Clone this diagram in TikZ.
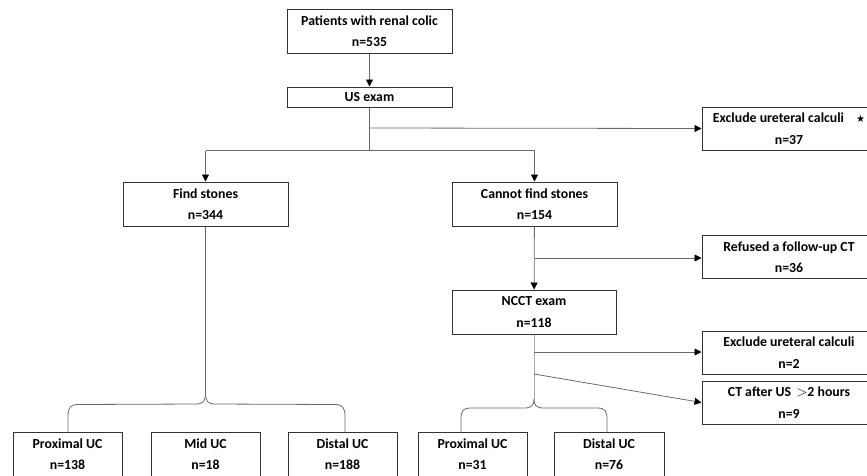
\documentclass[tikz,border=0pt]{standalone}
\usepackage{fontspec}
\setmainfont{Carlito}
\newfontfamily\symfont{DejaVu Sans}
\usetikzlibrary{arrows.meta,calc}
\definecolor{boxline}{HTML}{333333}
\definecolor{conline}{HTML}{6A6A6A}
\definecolor{lightline}{HTML}{A8A8A8}
\begin{document}
\begin{tikzpicture}[x=1pt,y=-1pt,
  every node/.style={font=\fontsize{13.8}{21.5}\selectfont\bfseries},
  flowbox/.style={draw=boxline,line width=1pt,fill=white,align=center,inner sep=0pt,minimum height=44pt},
  widebox/.style={flowbox,minimum width=165pt},
  sidebox/.style={flowbox,minimum width=174pt,minimum height=43pt},
  leafbox/.style={flowbox,minimum width=109pt},
  conn/.style={draw=conline,line width=0.8pt},
  arr/.style={conn,-{Triangle[length=7pt,width=7pt,color=black]}}]
\useasboundingbox (0,0) rectangle (867,475);
\clip (0,0) rectangle (867,475);
% nodes
\node[widebox] (p) at (369.5,31) {Patients with renal colic\\n=535};
\node[widebox,minimum height=20pt] (us) at (369.5,97) {US exam};
\node[sidebox] (ex1) at (789,128.5) {Exclude ureteral calculi\hspace{12pt}{\symfont\fontsize{10}{10}\selectfont ★}\\n=37};
\node[widebox] (find) at (205.5,204) {Find stones\\n=344};
\node[widebox] (cannot) at (534.5,204) {Cannot find stones\\n=154};
\node[sidebox] (ref) at (789,257) {Refused a follow-up CT\\n=36};
\node[widebox,minimum width=164pt] (ncct) at (534,312) {NCCT exam\\n=118};
\node[sidebox] (ex2) at (789,352.5) {Exclude ureteral calculi\\n=2};
\node[sidebox] (cta) at (789,402.5) {CT after US \,{\mdseries$>$}2 hours\\n=9};
\node[leafbox] (prox1) at (67.5,454) {Proximal UC\\n=138};
\node[leafbox] (mid) at (205.5,454) {Mid UC\\n=18};
\node[leafbox] (dist1) at (342.5,454) {Distal UC\\n=188};
\node[leafbox] (prox2) at (472.5,454) {Proximal UC\\n=31};
\node[leafbox,minimum width=110pt] (dist2) at (609,454) {Distal UC\\n=76};
% helper coordinates
\coordinate (j1) at (us.south |- 0,150.5);
\coordinate (j0) at (us.south |- 0,128);
\coordinate (jf) at (find.north |- 0,150.5);
\coordinate (jc) at (cannot.north |- 0,150.5);
\coordinate (jr) at (cannot.south |- 0,258);
\coordinate (jn1) at (ncct.south |- 0,352);
\coordinate (jn2) at (ncct.south |- 0,374);
\coordinate (bt1) at (find.south |- 0,393);
\coordinate (bt2) at (ncct.south |- 0,399);
\coordinate (lg2) at (461,432);
\coordinate (rg2) at (607,432);
% connectors
\draw[arr] (p) -- (us);
\draw[conn] (us.south) -- (j1);
\draw[arr] (j0) -- (ex1.west);
\draw[conn] (jf) -- (jc);
\draw[arr] (jf) -- (find.north);
\draw[arr] (jc) -- (cannot.north);
\draw[arr] (cannot) -- (ncct);
\draw[arr] (jr) -- (jr -| ref.west);
\draw[draw=lightline,line width=0.8pt] (ncct.south) -- (bt2);
\draw[arr] (jn1) -- (jn1 -| ex2.west);
\draw[arr] (jn2) -- (cta.west);
% brace under Find stones
\draw[conn] (find.south) -- (bt1)
  .. controls ($(bt1)+(0,8)$) and ($(bt1)+(-2,11)$) .. ($(bt1)+(-10,11)$)
  -- ($(prox1.north)+(10.5,-27)$)
  .. controls ($(prox1.north)+(3,-27)$) and ($(prox1.north)+(0.5,-24)$) .. ($(prox1.north)+(0.5,-15)$)
  -- ($(prox1.north)+(0.5,0)$);
\draw[conn] (bt1)
  .. controls ($(bt1)+(0,8)$) and ($(bt1)+(2,11)$) .. ($(bt1)+(10,11)$)
  -- ($(dist1.north)+(-7.5,-27)$)
  .. controls ($(dist1.north)+(0,-27)$) and ($(dist1.north)+(2.5,-24)$) .. ($(dist1.north)+(2.5,-15)$)
  -- ($(dist1.north)+(2.5,0)$);
% brace under NCCT
\draw[conn] (bt2)
  .. controls ($(bt2)+(0,6)$) and ($(bt2)+(-2,9)$) .. ($(bt2)+(-10,9)$)
  -- ($(lg2)+(10,-24)$)
  .. controls ($(lg2)+(2,-24)$) and ($(lg2)+(0,-21)$) .. ($(lg2)+(0,-13)$)
  -- (lg2);
\draw[conn] (bt2)
  .. controls ($(bt2)+(0,6)$) and ($(bt2)+(2,9)$) .. ($(bt2)+(10,9)$)
  -- ($(rg2)+(-10,-24)$)
  .. controls ($(rg2)+(-2,-24)$) and ($(rg2)+(0,-21)$) .. ($(rg2)+(0,-13)$)
  -- (rg2);
\end{tikzpicture}
\end{document}
